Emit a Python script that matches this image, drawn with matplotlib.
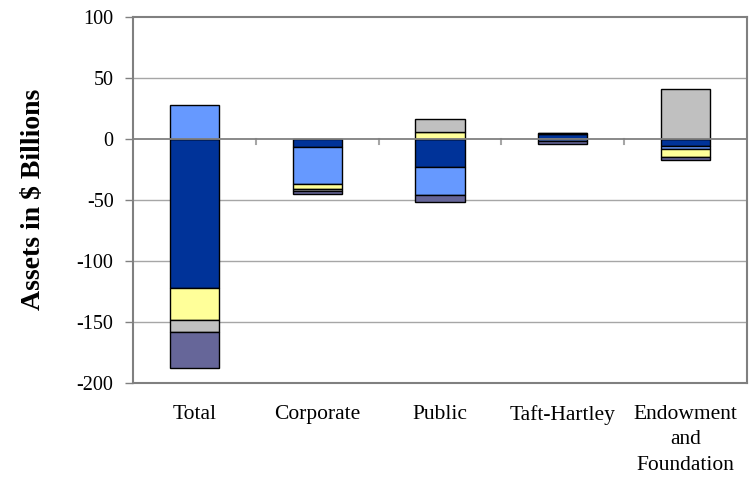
import matplotlib
matplotlib.use("Agg")
import matplotlib.pyplot as plt
import numpy as np

plt.rcParams['font.family'] = ['Liberation Serif', 'DejaVu Serif']
plt.rcParams['axes.unicode_minus'] = False

categories = ["Total", "Corporate", "Public", "Taft-Hartley", "Endowment\nand\nFoundation"]

# change in assets per asset class, $ billions
dark_blue = [-122.5, -6.5, -23.0, 4.0, -6.0]
light_blue = [28.0, -30.5, -23.0, -1.5, -2.5]
yellow = [-26.5, -4.5, 5.5, 1.0, -6.5]
gray = [-9.5, -1.5, 11.0, 0.0, 41.0]
purple = [-29.5, -2.0, -5.5, -3.0, -2.5]

series = [dark_blue, light_blue, yellow, gray, purple]
colors = ["#003399", "#6699FF", "#FFFF99", "#C0C0C0", "#666699"]

fig = plt.figure(figsize=(7.51, 4.78), dpi=100)
ax = fig.add_axes([0.1771, 0.1994, 0.8176, 0.7656])

x = np.arange(len(categories))
pos_base = np.zeros(len(categories))
neg_base = np.zeros(len(categories))
for vals, col in zip(series, colors):
    vals = np.array(vals)
    bottoms = np.where(vals >= 0, pos_base, neg_base)
    ax.bar(x, vals, 0.4, bottom=bottoms, color=col, edgecolor="black",
           linewidth=1.0, zorder=3)
    pos_base += np.where(vals >= 0, vals, 0)
    neg_base += np.where(vals < 0, vals, 0)

ax.set_xlim(-0.5, len(categories) - 0.5)
ax.set_ylim(-200, 100)
ax.set_yticks(range(-200, 101, 50))
ax.tick_params(axis='y', labelsize=14.5, length=6, width=1, color="#808080", pad=8)

# gridlines
for yv in [50, -50, -100, -150]:
    ax.axhline(yv, color="#A6A6A6", linewidth=1, zorder=1)
ax.axhline(0, color="#808080", linewidth=1.3, zorder=4)

# category ticks along the zero line
for xv in np.arange(0.5, len(categories) - 0.5, 1):
    ax.plot([xv, xv], [0, -4.5], color="#A6A6A6", linewidth=1.5, zorder=2)

ax.set_xticks(x)
ax.set_xticklabels(categories, fontsize=15.5, linespacing=1.45)
ax.tick_params(axis='x', length=0, pad=16)

for s in ax.spines.values():
    s.set_color("#808080")
    s.set_linewidth(1.5)

ax.set_ylabel("Assets in $ Billions", fontsize=20, fontweight="bold", labelpad=22)

fig.savefig("out.png", dpi=100)
